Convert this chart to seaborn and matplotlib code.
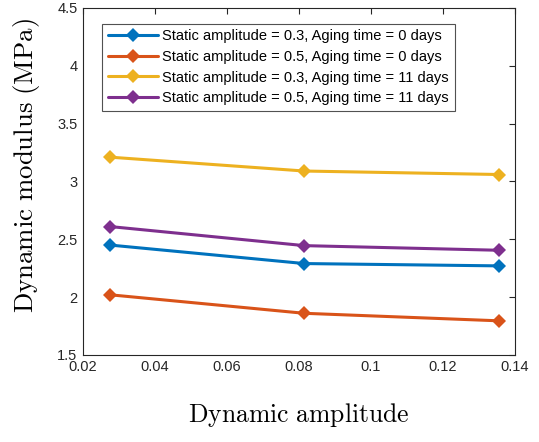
import matplotlib
matplotlib.use("Agg")
import matplotlib.pyplot as plt
import seaborn as sns
import pandas as pd

dyn_amp = [0.0275, 0.0815, 0.1355]
series_names = [
    "Static amplitude = 0.3, Aging time = 0 days",
    "Static amplitude = 0.5, Aging time = 0 days",
    "Static amplitude = 0.3, Aging time = 11 days",
    "Static amplitude = 0.5, Aging time = 11 days",
]
s03_0d = [2.45, 2.29, 2.27]
s05_0d = [2.02, 1.86, 1.795]
s03_11d = [3.21, 3.09, 3.06]
s05_11d = [2.61, 2.445, 2.405]
colors = ["#0072BD", "#D95319", "#EDB120", "#7E2F8E"]
xticks = [0.02, 0.04, 0.06, 0.08, 0.1, 0.12, 0.14]
yticks = [1.5, 2, 2.5, 3, 3.5, 4, 4.5]

rows = []
for name, vals in zip(series_names, [s03_0d, s05_0d, s03_11d, s05_11d]):
    for x, y in zip(dyn_amp, vals):
        rows.append({"x": x, "y": y, "series": name})
df = pd.DataFrame(rows)

sns.set_style("white")
plt.rcParams["font.family"] = ["Liberation Sans", "DejaVu Sans"]
plt.rcParams["mathtext.fontset"] = "cm"

fig = plt.figure(figsize=(5.39, 4.42), dpi=100)
ax = fig.add_axes([0.154, 0.197, 0.801, 0.785])
sns.lineplot(data=df, x="x", y="y", hue="series", hue_order=series_names,
             palette=colors, marker="D", markersize=7.5, linewidth=2.2,
             markeredgewidth=0, ax=ax, legend=True)

ax.set_xlim(0.02, 0.14)
ax.set_ylim(1.5, 4.5)
ax.set_xticks(xticks)
ax.set_xticklabels([f"{t:g}" for t in xticks])
ax.set_yticks(yticks)
ax.set_yticklabels([f"{t:g}" for t in yticks])
ax.tick_params(direction="in", length=4, width=0.8, colors="#262626",
               labelsize=10.5, top=True, right=True, pad=4)
for sp in ax.spines.values():
    sp.set_color("#262626")
    sp.set_linewidth(0.8)

ax.set_xlabel(r"$\mathrm{Dynamic\ amplitude}$", fontsize=18.5, labelpad=19, color="black")
ax.set_ylabel(r"$\mathrm{Dynamic\ modulus\ (MPa)}$", fontsize=19.3, labelpad=11,
              color="black", y=0.545)

leg = ax.legend(loc="upper left", bbox_to_anchor=(0.045, 0.955), fontsize=10.5,
                frameon=True, fancybox=False, edgecolor="#262626",
                handlelength=3.4, handletextpad=0.3, borderpad=0.4,
                labelspacing=0.45, borderaxespad=0)
leg.get_frame().set_linewidth(0.8)
for t in leg.get_texts():
    t.set_color("black")

fig.savefig("out.png", dpi=100)
